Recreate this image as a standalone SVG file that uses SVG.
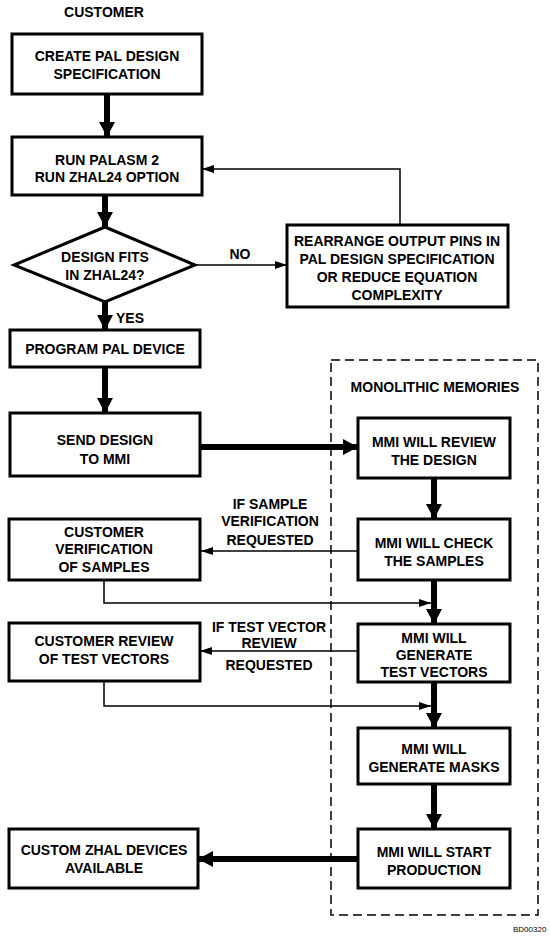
<svg xmlns="http://www.w3.org/2000/svg" width="550" height="936" viewBox="0 0 550 936">
<style>
  .box { fill: #fff; stroke: #000; stroke-width: 3; }
  .t { font-family: "Liberation Sans", Arial, sans-serif; font-weight: bold; font-size: 14px; fill: #000; text-anchor: middle; }
  .thick { stroke: #000; stroke-width: 6; fill: none; }
  .thin { stroke: #000; stroke-width: 1.5; fill: none; }
  .dash { fill: none; stroke: #000; stroke-width: 1.5; stroke-dasharray: 9 5; }
</style>
<defs>
  <marker id="big" markerUnits="userSpaceOnUse" markerWidth="16" markerHeight="16" refX="15" refY="8" orient="auto">
    <path d="M0,0 L15,8 L0,16 z" fill="#000"/>
  </marker>
  <marker id="small" markerUnits="userSpaceOnUse" markerWidth="12" markerHeight="8" refX="12" refY="4" orient="auto">
    <path d="M0,0 L12,4 L0,8 z" fill="#000"/>
  </marker>
</defs>
<rect width="550" height="936" fill="#fff"/>

<text class="t" x="104" y="17">CUSTOMER</text>

<g id="mmi-region">
  <rect class="dash" x="331" y="360" width="207" height="555"/>
  <text class="t" x="435" y="392">MONOLITHIC MEMORIES</text>
</g>

<g id="connectors">
  <line class="thick" x1="107" y1="94" x2="107" y2="137" marker-end="url(#big)"/>
  <line class="thick" x1="105" y1="195" x2="105" y2="227" marker-end="url(#big)"/>
  <line class="thick" x1="105" y1="302" x2="105" y2="330" marker-end="url(#big)"/>
  <line class="thick" x1="105" y1="367" x2="105" y2="413" marker-end="url(#big)"/>
  <line class="thin" x1="195" y1="265" x2="287" y2="265" marker-end="url(#small)"/>
  <polyline class="thin" points="400,225 400,169 202,169" marker-end="url(#small)"/>
  <line class="thick" x1="200" y1="447" x2="358" y2="447" marker-end="url(#big)"/>
  <line class="thick" x1="434" y1="478" x2="434" y2="519" marker-end="url(#big)"/>
  <line class="thin" x1="358" y1="551" x2="201" y2="551" marker-end="url(#small)"/>
  <polyline class="thin" points="104,580 104,603 431,603" marker-end="url(#small)"/>
  <line class="thick" x1="434" y1="580" x2="434" y2="624" marker-end="url(#big)"/>
  <line class="thin" x1="358" y1="651" x2="200" y2="651" marker-end="url(#small)"/>
  <polyline class="thin" points="104,681 104,706 431,706" marker-end="url(#small)"/>
  <line class="thick" x1="434" y1="682" x2="434" y2="728" marker-end="url(#big)"/>
  <line class="thick" x1="434" y1="784" x2="434" y2="829" marker-end="url(#big)"/>
  <line class="thick" x1="358" y1="859" x2="198" y2="859" marker-end="url(#big)"/>
</g>

<g id="labels">
  <text class="t" x="240" y="259">NO</text>
  <text class="t" x="130" y="323">YES</text>
  <text class="t" x="270" y="509">IF SAMPLE</text>
  <text class="t" x="270" y="526">VERIFICATION</text>
  <text class="t" x="270" y="545">REQUESTED</text>
  <text class="t" x="269" y="632">IF TEST VECTOR</text>
  <text class="t" x="269" y="648">REVIEW</text>
  <text class="t" x="269" y="670">REQUESTED</text>
</g>

<g id="n-create">
  <rect class="box" x="12" y="34" width="190" height="60"/>
  <text class="t" x="107" y="61">CREATE PAL DESIGN</text>
  <text class="t" x="107" y="79">SPECIFICATION</text>
</g>
<g id="n-run">
  <rect class="box" x="12" y="137" width="190" height="58"/>
  <text class="t" x="107" y="165">RUN PALASM 2</text>
  <text class="t" x="107" y="182">RUN ZHAL24 OPTION</text>
</g>
<g id="n-fits">
  <polygon class="box" points="105,227 195,265 105,302 14,265"/>
  <text class="t" x="105" y="262">DESIGN FITS</text>
  <text class="t" x="105" y="280">IN ZHAL24?</text>
</g>
<g id="n-rearrange">
  <rect class="box" x="287" y="225" width="221" height="82"/>
  <text class="t" x="397" y="246">REARRANGE OUTPUT PINS IN</text>
  <text class="t" x="397" y="264">PAL DESIGN SPECIFICATION</text>
  <text class="t" x="397" y="282">OR REDUCE EQUATION</text>
  <text class="t" x="397" y="300">COMPLEXITY</text>
</g>
<g id="n-program">
  <rect class="box" x="10" y="330" width="190" height="37"/>
  <text class="t" x="105" y="354">PROGRAM PAL DEVICE</text>
</g>
<g id="n-send">
  <rect class="box" x="10" y="413" width="190" height="63"/>
  <text class="t" x="105" y="445">SEND DESIGN</text>
  <text class="t" x="105" y="464">TO MMI</text>
</g>
<g id="n-review">
  <rect class="box" x="358" y="418" width="152" height="60"/>
  <text class="t" x="434" y="447">MMI WILL REVIEW</text>
  <text class="t" x="434" y="465">THE DESIGN</text>
</g>
<g id="n-check">
  <rect class="box" x="358" y="519" width="152" height="61"/>
  <text class="t" x="434" y="548">MMI WILL CHECK</text>
  <text class="t" x="434" y="566">THE SAMPLES</text>
</g>
<g id="n-verif">
  <rect class="box" x="9" y="519" width="191" height="61"/>
  <text class="t" x="104" y="537">CUSTOMER</text>
  <text class="t" x="104" y="554">VERIFICATION</text>
  <text class="t" x="104" y="572">OF SAMPLES</text>
</g>
<g id="n-testvec">
  <rect class="box" x="358" y="624" width="152" height="58"/>
  <text class="t" x="434" y="643">MMI WILL</text>
  <text class="t" x="434" y="660">GENERATE</text>
  <text class="t" x="434" y="677">TEST  VECTORS</text>
</g>
<g id="n-custreview">
  <rect class="box" x="9" y="623" width="191" height="58"/>
  <text class="t" x="104" y="646">CUSTOMER REVIEW</text>
  <text class="t" x="104" y="664">OF TEST VECTORS</text>
</g>
<g id="n-masks">
  <rect class="box" x="358" y="728" width="152" height="56"/>
  <text class="t" x="434" y="754">MMI WILL</text>
  <text class="t" x="434" y="772">GENERATE MASKS</text>
</g>
<g id="n-production">
  <rect class="box" x="358" y="829" width="152" height="59"/>
  <text class="t" x="434" y="857">MMI WILL START</text>
  <text class="t" x="434" y="875">PRODUCTION</text>
</g>
<g id="n-available">
  <rect class="box" x="9" y="829" width="189" height="59"/>
  <text class="t" x="104" y="855">CUSTOM ZHAL DEVICES</text>
  <text class="t" x="104" y="873">AVAILABLE</text>
</g>

<text x="513" y="932" style="font-family: 'Liberation Sans', Arial, sans-serif; font-size: 8px; fill: #000;">BD00320</text>
</svg>
